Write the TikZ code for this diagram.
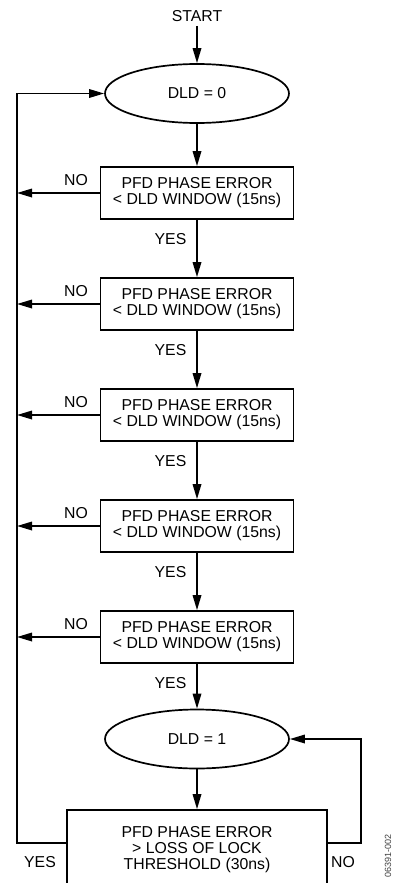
\documentclass[tikz,border=0pt]{standalone}
\usepackage{fontspec}
\setmainfont{Liberation Sans}
\usetikzlibrary{shapes.geometric,arrows.meta,calc}
\begin{document}
\begin{tikzpicture}[x=1pt,y=-1pt,
  line width=1.7pt,
  >={Triangle[length=15pt,width=8.5pt]},
  every node/.style={font=\fontsize{15.8}{16}\selectfont, align=center, inner sep=0pt},
  oval/.style={draw, ellipse, minimum width=184pt, minimum height=59pt},
  testbox/.style={draw, rectangle, minimum width=193pt, minimum height=52pt},
  finalbox/.style={draw, rectangle, minimum width=260pt, minimum height=80pt},
  partno/.style={rotate=90, font=\fontsize{9}{9}\selectfont, text=black!75}
]
\useasboundingbox (0,0) rectangle (392,883);
\node (start) at (197,16.5) {START};
\node[oval] (d0) at (197,93.5) {DLD = 0};
\coordinate (L) at (17,93.5);
\coordinate (R) at (361,739);
\foreach \i/\y in {1/193,2/304,3/415,4/526,5/637} {
  \node[testbox] (b\i) at (197,\y) {PFD PHASE ERROR\\< DLD WINDOW (15ns)};
  \node (no\i) at (76,\y-13) {NO};
  \node (yes\i) at (170.5,\y+46) {YES};
  \draw[->] (b\i.west) -- (b\i.west -| L);
}
\node[oval] (d1) at (197,739) {DLD = 1};
\node[finalbox] (fb) at (197,850) {PFD PHASE ERROR\\> LOSS OF LOCK\\THRESHOLD (30ns)};
\node (yesf) at (40,862) {YES};
\node (nof) at (343,862) {NO};
\node[partno] (pn) at (388,856) {06391-002};

\draw[->, shorten <=3pt] (start.south) -- (d0.north);
\draw[->] (d0) -- (b1);
\draw[->] (b1) -- (b2);
\draw[->] (b2) -- (b3);
\draw[->] (b3) -- (b4);
\draw[->] (b4) -- (b5);
\draw[->] (b5) -- (d1);
\draw[->] (d1) -- (fb);
\coordinate (fl) at ($(fb.west)+(0,-7)$);
\coordinate (fr) at ($(fb.east)+(0,-7)$);
\draw[->] (fl) -- (fl -| L) -- (L) -- (d0.west);
\draw[->] (fr) -- (fr -| R) -- (R) -- (d1.east);
\end{tikzpicture}
\end{document}
